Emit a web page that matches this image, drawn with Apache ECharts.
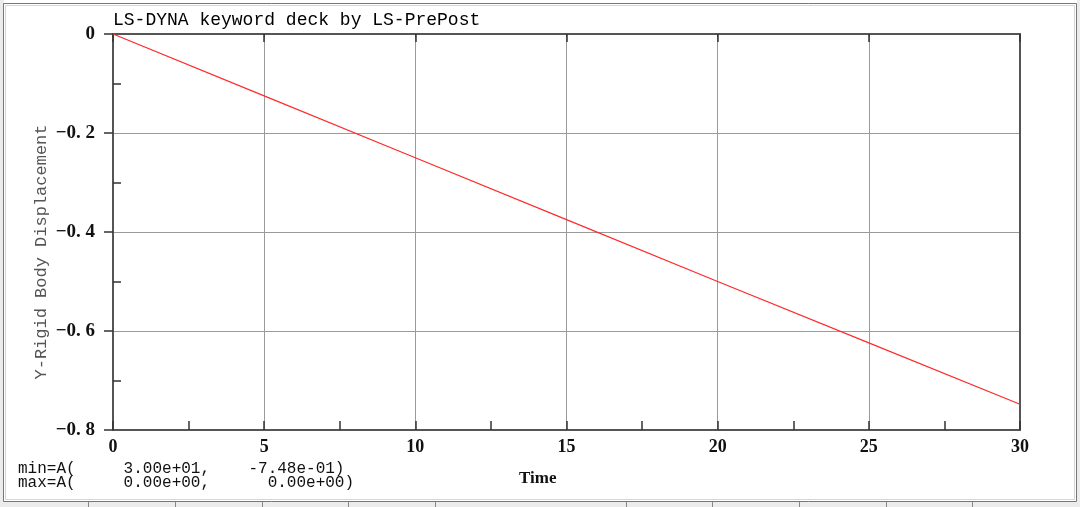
<!DOCTYPE html>
<html><head><meta charset="utf-8">
<script src="https://cdn.jsdelivr.net/npm/echarts@6/dist/echarts.min.js"></script>
<style>html,body{margin:0;padding:0;background:#fff}#c{width:1080px;height:507px}</style>
</head><body><div id="c"></div>
<script>
const titleText = 'LS-DYNA keyword deck by LS-PrePost';
const yName = 'Y-Rigid Body Displacement';
const xName = 'Time';
const minLine = 'min=A(     3.00e+01,    -7.48e-01)';
const maxLine = 'max=A(     0.00e+00,      0.00e+00)';
const times = [0, 5, 10, 15, 20, 25, 30];
const disp = [0, -0.125, -0.25, -0.375, -0.5, -0.624, -0.748];
const xTicks = [0, 5, 10, 15, 20, 25, 30];
const yTicks = [0, -0.2, -0.4, -0.6, -0.8];

const chart = echarts.init(document.getElementById('c'), null, {renderer: 'canvas'});
const axisCol = '#555';
const fmtY = v => (v === 0 ? '0' : ('\u2212' + Math.abs(v).toFixed(1).replace('.', '. ')));
const sepXs = [88, 175, 262, 348, 435, 626, 712, 799, 886, 972];
const graphics = [
  {type: 'rect', shape: {x: 0, y: 0, width: 4, height: 507}, style: {fill: '#ececec'}, silent: true},
  {type: 'rect', shape: {x: 0, y: 502, width: 1080, height: 5}, style: {fill: '#ececec'}, silent: true},
  {type: 'rect', shape: {x: 1077, y: 0, width: 3, height: 507}, style: {fill: '#ececec'}, silent: true},
  {type: 'rect', shape: {x: 3.5, y: 3.5, width: 1073, height: 498}, style: {fill: 'none', stroke: '#777', lineWidth: 1}, silent: true},
  {type: 'rect', shape: {x: 5.5, y: 5.5, width: 1069, height: 494}, style: {fill: 'none', stroke: '#d6d6d6', lineWidth: 1}, silent: true},
  {type: 'text', left: 113, top: 11, style: {text: titleText, font: '18px "Liberation Mono"', fill: '#000'}},
  {type: 'text', x: 41, y: 252, rotation: Math.PI / 2, style: {text: yName, font: '17px "Liberation Mono"', fill: '#555', align: 'center', verticalAlign: 'middle'}},
  {type: 'text', left: 519, top: 470, style: {text: xName, font: 'bold 17px "Liberation Serif"', fill: '#111'}},
  {type: 'text', left: 18, top: 461, style: {text: minLine + '\n' + maxLine, font: '16px "Liberation Mono"', lineHeight: 14, fill: '#111'}}
];
sepXs.forEach(x => graphics.push({type: 'line', shape: {x1: x + 0.5, y1: 502, x2: x + 0.5, y2: 507}, style: {stroke: '#888', lineWidth: 1}, silent: true}));

chart.setOption({
  animation: false,
  backgroundColor: '#fff',
  grid: {left: 113, top: 34, right: 60, bottom: 77, containLabel: false},
  graphic: graphics,
  xAxis: [
    {type: 'value', position: 'bottom', min: xTicks[0], max: xTicks[xTicks.length - 1], interval: 5,
     axisLine: {show: true, onZero: false, lineStyle: {color: axisCol, width: 2}},
     axisTick: {show: true, inside: true, length: 9, lineStyle: {color: '#333', width: 1.5}},
     minorTick: {show: true, splitNumber: 2, length: 9, lineStyle: {color: '#333', width: 1.5}},
     splitLine: {show: true, lineStyle: {color: '#9a9a9a', width: 1}},
     axisLabel: {show: true, margin: 8, color: '#111', fontFamily: 'Liberation Serif', fontWeight: 'bold', fontSize: 18,
                 formatter: v => String(v)}},
    {type: 'value', position: 'bottom', min: 0, max: 30, interval: 5,
     axisLine: {show: false},
     axisTick: {show: true, inside: false, length: 3, lineStyle: {color: '#444', width: 1}},
     axisLabel: {show: false}, splitLine: {show: false}},
    {type: 'value', position: 'top', min: 0, max: 30, interval: 5,
     axisLine: {show: true, onZero: false, lineStyle: {color: axisCol, width: 2}},
     axisTick: {show: true, inside: true, length: 8, lineStyle: {color: '#333', width: 1.5}},
     axisLabel: {show: false}, splitLine: {show: false}}
  ],
  yAxis: [
    {type: 'value', position: 'left', min: yTicks[yTicks.length - 1], max: yTicks[0], interval: 0.2,
     axisLine: {show: true, onZero: false, lineStyle: {color: axisCol, width: 2}},
     axisTick: {show: true, inside: false, length: 9, lineStyle: {color: '#333', width: 1.5}},
     splitLine: {show: true, lineStyle: {color: '#9a9a9a', width: 1}},
     axisLabel: {show: true, margin: 18, color: '#111', fontFamily: 'Liberation Serif', fontWeight: 'bold', fontSize: 19,
                 formatter: fmtY}},
    {type: 'value', position: 'left', min: -0.8, max: 0, interval: 0.2,
     axisLine: {show: false},
     axisTick: {show: false, inside: true, length: 8},
     minorTick: {show: true, splitNumber: 2, length: 8, lineStyle: {color: '#333', width: 1.5}},
     splitLine: {show: false}, axisLabel: {show: false}},
    {type: 'value', position: 'right', min: -0.8, max: 0, interval: 0.2,
     axisLine: {show: true, onZero: false, lineStyle: {color: axisCol, width: 2}},
     axisTick: {show: false}, splitLine: {show: false}, axisLabel: {show: false}}
  ],
  series: [{
    type: 'line', xAxisIndex: 0, yAxisIndex: 0,
    data: times.map((t, i) => [t, disp[i]]),
    showSymbol: false, symbol: 'none',
    lineStyle: {color: '#ff2a2a', width: 1.2},
    clip: false
  }]
});
</script></body></html>
